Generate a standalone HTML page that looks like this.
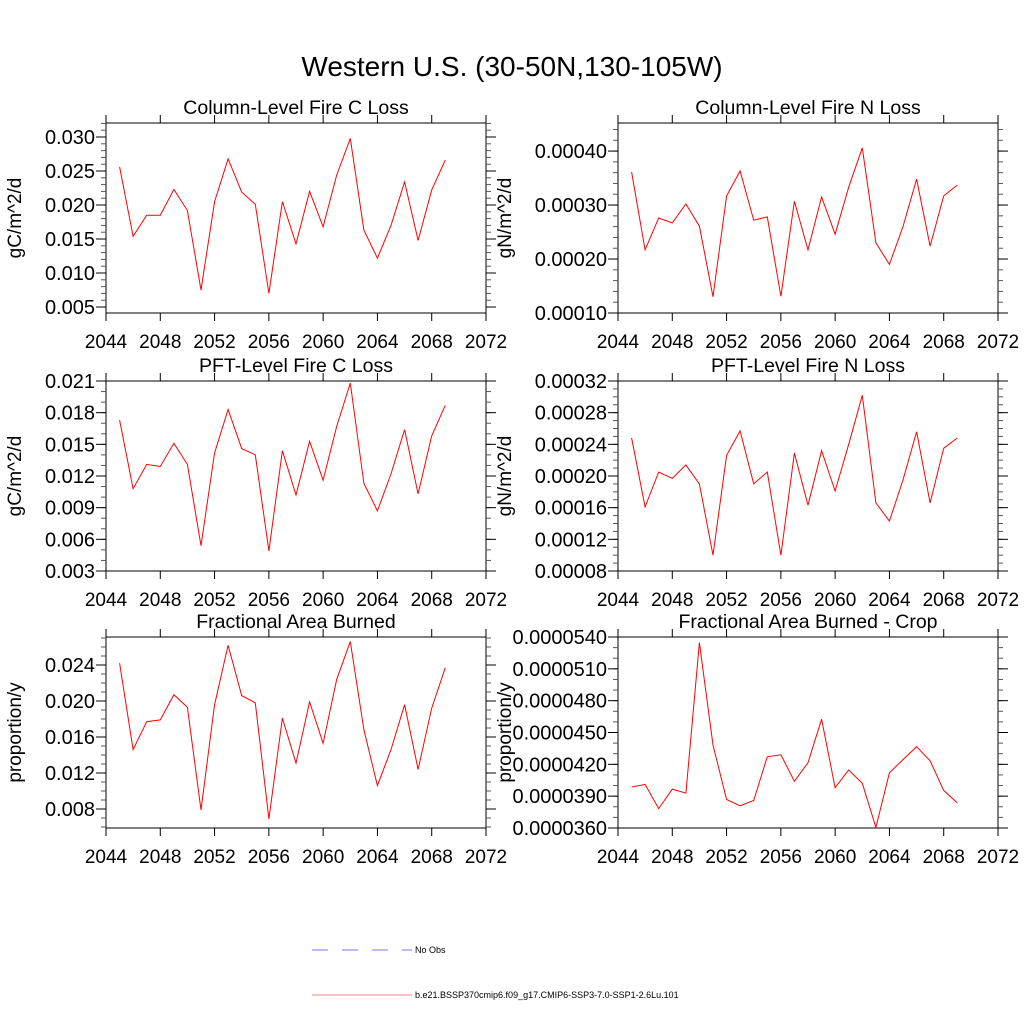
<!DOCTYPE html>
<html><head><meta charset="utf-8"><style>
body{margin:0;background:#fff;}
svg{display:block;font-family:"Liberation Sans",sans-serif;}
</style></head><body>
<svg id="chart" width="1024" height="1024" viewBox="0 0 1024 1024" xmlns="http://www.w3.org/2000/svg">
<rect width="1024" height="1024" fill="#fff"/>
<text x="512" y="76" font-size="28" text-anchor="middle">Western U.S. (30-50N,130-105W)</text>
<g>
<line x1="312" y1="950" x2="412" y2="950" stroke="#7777ee" stroke-width="1" stroke-dasharray="16,14"/>
<text x="415" y="953" font-size="9">No Obs</text>
<line x1="312" y1="995" x2="412" y2="995" stroke="#f08080" stroke-width="1"/>
<text x="415" y="998" font-size="9">b.e21.BSSP370cmip6.f09_g17.CMIP6-SSP3-7.0-SSP1-2.6Lu.101</text>
</g>
</svg>
<script>
const years=[2045,2046,2047,2048,2049,2050,2051,2052,2053,2054,2055,2056,2057,2058,2059,2060,2061,2062,2063,2064,2065,2066,2067,2068,2069];
const xTicks=[2044,2048,2052,2056,2060,2064,2068,2072];
const colC=[.0256,.0154,.0185,.0185,.0223,.0192,.0075,.0205,.0268,.0219,.0201,.0070,.0205,.0143,.0220,.0168,.0244,.0298,.0163,.0122,.0170,.0234,.0148,.0222,.0266];
const colN=[.000361,.000217,.000276,.000267,.000302,.000261,.000130,.000317,.000363,.000272,.000278,.000131,.000307,.000217,.000315,.000246,.000333,.000406,.000230,.000190,.000260,.000348,.000224,.000317,.000337];
const pftC=[.0173,.0108,.0131,.0129,.0151,.0131,.0054,.0142,.0183,.0146,.0140,.0049,.0144,.0102,.0153,.0116,.0167,.0208,.0113,.0087,.0122,.0164,.0103,.0158,.0187];
const pftN=[.000248,.000161,.000205,.000197,.000214,.000190,.000100,.000226,.000257,.000190,.000205,.000100,.000229,.000163,.000232,.000181,.000240,.000302,.000166,.000143,.000195,.000256,.000166,.000235,.000248];
const fab=[.0242,.0146,.0177,.0179,.0207,.0193,.0079,.0196,.0262,.0206,.0198,.0069,.0181,.0131,.0199,.0153,.0224,.0266,.0168,.0106,.0146,.0196,.0124,.0192,.0237];
const fabCrop=[.00003986,.00004011,.00003783,.00003967,.00003929,.00005346,.00004381,.00003869,.00003809,.00003859,.00004271,.00004290,.00004040,.00004214,.00004625,.00003980,.00004147,.00004021,.00003606,.00004119,.00004245,.00004366,.00004233,.00003954,.00003837];
const ticks1=["0.005","0.010","0.015","0.020","0.025","0.030"];
const ticks2=["0.00010","0.00020","0.00030","0.00040"];
const ticks3=["0.003","0.006","0.009","0.012","0.015","0.018","0.021"];
const ticks4=["0.00008","0.00012","0.00016","0.00020","0.00024","0.00028","0.00032"];
const ticks5=["0.008","0.012","0.016","0.020","0.024"];
const ticks6=["0.0000360","0.0000390","0.0000420","0.0000450","0.0000480","0.0000510","0.0000540"];
const NS="http://www.w3.org/2000/svg";
const svg=document.getElementById('chart');
function mk(tag,attrs,parent){const e=document.createElementNS(NS,tag);for(const k in attrs)e.setAttribute(k,attrs[k]);(parent||svg).appendChild(e);return e;}
const panels=[
 {id:'column-c',title:'Column-Level Fire C Loss',yt:'gC/m^2/d',x0:106,y0:123,h:190,ymin:.00412,ymax:.03206,ticks:ticks1,nmin:5,data:colC},
 {id:'column-n',title:'Column-Level Fire N Loss',yt:'gN/m^2/d',x0:618,y0:123,h:190,ymin:.0001,ymax:.000452,ticks:ticks2,nmin:5,data:colN},
 {id:'pft-c',title:'PFT-Level Fire C Loss',yt:'gC/m^2/d',x0:106,y0:381,h:190,ymin:.003,ymax:.021,ticks:ticks3,nmin:3,data:pftC},
 {id:'pft-n',title:'PFT-Level Fire N Loss',yt:'gN/m^2/d',x0:618,y0:381,h:190,ymin:.00008,ymax:.00032,ticks:ticks4,nmin:4,data:pftN},
 {id:'area-burned',title:'Fractional Area Burned',yt:'proportion/y',x0:106,y0:637,h:191,ymin:.00589,ymax:.02711,ticks:ticks5,nmin:4,data:fab},
 {id:'area-burned-crop',title:'Fractional Area Burned - Crop',yt:'proportion/y',x0:618,y0:637,h:191,ymin:.000036,ymax:.000054,ticks:ticks6,nmin:3,data:fabCrop}
];
panels.forEach(p=>{
 const W=380,g=mk('g',{});
 
 
 const xs=v=>p.x0+(v-2044)/(2072-2044)*W;
 const ys=v=>p.y0+p.h-(v-p.ymin)/(p.ymax-p.ymin)*p.h;
 const t=mk('text',{x:p.x0+W/2,y:p.y0-9,'font-size':19.5,'text-anchor':'middle'},g);t.textContent=p.title;
 
 
 const fr=mk('rect',{x:p.x0,y:p.y0,width:W,height:p.h,fill:'none',stroke:'#000','stroke-width':1},g);
 
 
 xTicks.forEach(v=>{const x=xs(v);
  mk('line',{x1:x,y1:p.y0+p.h,x2:x,y2:p.y0+p.h+8,stroke:'#000'},g);
  mk('line',{x1:x,y1:p.y0,x2:x,y2:p.y0-8,stroke:'#000'},g);
  const l=mk('text',{x:x,y:p.y0+p.h+35,'font-size':19,'text-anchor':'middle'},g);l.textContent=v;
  
  
 });
 const step=parseFloat(p.ticks[1])-parseFloat(p.ticks[0]);
 const mstep=step/p.nmin;
 const t0=parseFloat(p.ticks[0]);
 for(let k=-10;k<200;k++){
  const v=t0+k*mstep; if(v<p.ymin-1e-12)continue; if(v>p.ymax+1e-12)break;
  const y=ys(v);
  mk('line',{x1:p.x0,y1:y,x2:p.x0-5,y2:y,stroke:'#555'},g);
  mk('line',{x1:p.x0+W,y1:y,x2:p.x0+W+5,y2:y,stroke:'#555'},g);
 }
 p.ticks.forEach(s=>{const y=ys(parseFloat(s));
  mk('line',{x1:p.x0,y1:y,x2:p.x0-10,y2:y,stroke:'#000'},g);
  mk('line',{x1:p.x0+W,y1:y,x2:p.x0+W+10,y2:y,stroke:'#000'},g);
  const l=mk('text',{x:p.x0-11,y:y+7,'font-size':20,'text-anchor':'end'},g);l.textContent=s;
  
  
 });
 const yx=p.x0<300?21:511;
 const yt=mk('text',{x:yx,y:p.y0+p.h/2,'font-size':19,'text-anchor':'middle',transform:`rotate(-90 ${yx} ${p.y0+p.h/2})`},g);yt.textContent=p.yt;
 
 
 const pts=p.data.map((v,i)=>xs(years[i]).toFixed(1)+','+ys(v).toFixed(1)).join(' ');
 const pl=mk('polyline',{points:pts,fill:'none',stroke:'#ff0000','stroke-width':1},g);
 
 
});
</script>
</body></html>
